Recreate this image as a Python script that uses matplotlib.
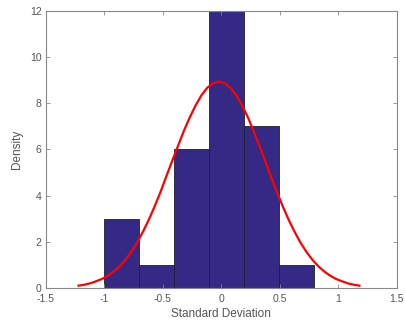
import matplotlib
matplotlib.use('Agg')
import matplotlib.pyplot as plt

plt.rcParams['font.family'] = ['Liberation Sans', 'DejaVu Sans']

# histogram bins
bin_edges = [-1.0, -0.702, -0.404, -0.106, 0.192, 0.49, 0.788]
counts = [3, 1, 6, 12, 7, 1]

# red fitted curve
curve_x = [-1.22, -1.17, -1.12, -1.07, -1.02, -0.97, -0.92, -0.87, -0.82,
           -0.77, -0.72, -0.67, -0.62, -0.57, -0.52, -0.47, -0.42, -0.37,
           -0.32, -0.27, -0.22, -0.17, -0.12, -0.07, -0.02, 0.03, 0.08,
           0.13, 0.18, 0.23, 0.28, 0.33, 0.38, 0.43, 0.48, 0.53, 0.58,
           0.63, 0.68, 0.73, 0.78, 0.83, 0.88, 0.93, 0.98, 1.03, 1.08,
           1.13, 1.18]
curve_y = [0.10, 0.14, 0.20, 0.29, 0.39, 0.53, 0.71, 0.93, 1.21,
           1.55, 1.95, 2.43, 2.95, 3.53, 4.15, 4.83, 5.5, 6.15,
           6.8, 7.38, 7.9, 8.34, 8.67, 8.86, 8.93, 8.86, 8.65,
           8.32, 7.88, 7.35, 6.74, 6.09, 5.42, 4.74, 4.09, 3.47, 2.9,
           2.39, 1.93, 1.54, 1.21, 0.93, 0.71, 0.53, 0.39, 0.29, 0.2,
           0.14, 0.1]

xticks = [-1.5, -1, -0.5, 0, 0.5, 1, 1.5]
xticklabels = ['-1.5', '-1', '-0.5', '0', '0.5', '1', '1.5']
yticks = [0, 2, 4, 6, 8, 10, 12]

fig = plt.figure(figsize=(4.05, 3.25), dpi=100)
ax = fig.add_axes([0.113, 0.114, 0.867, 0.853])

widths = [bin_edges[i + 1] - bin_edges[i] for i in range(len(counts))]
ax.bar(bin_edges[:-1], counts, width=widths, align='edge',
       color='#342a86', edgecolor='#1e1e2e', linewidth=0.6)
ax.plot(curve_x, curve_y, color='#ff0000', linewidth=1.6)

ax.set_xlim(-1.5, 1.5)
ax.set_ylim(0, 12)
ax.set_xticks(xticks)
ax.set_xticklabels(xticklabels)
ax.set_yticks(yticks)

grey = '#555555'
for s in ax.spines.values():
    s.set_color('#888888')
    s.set_linewidth(0.8)
ax.tick_params(direction='in', length=3, width=0.6, colors='#888888',
               labelcolor=grey, labelsize=7.5, top=True, right=True)
ax.tick_params(axis='x', pad=4.5)
ax.tick_params(axis='y', pad=3)

ax.set_xlabel('Standard Deviation', fontsize=8.5, color=grey, labelpad=2.5)
ax.set_ylabel('Density', fontsize=8.5, color=grey, labelpad=5)

fig.savefig('out.png', dpi=100)
